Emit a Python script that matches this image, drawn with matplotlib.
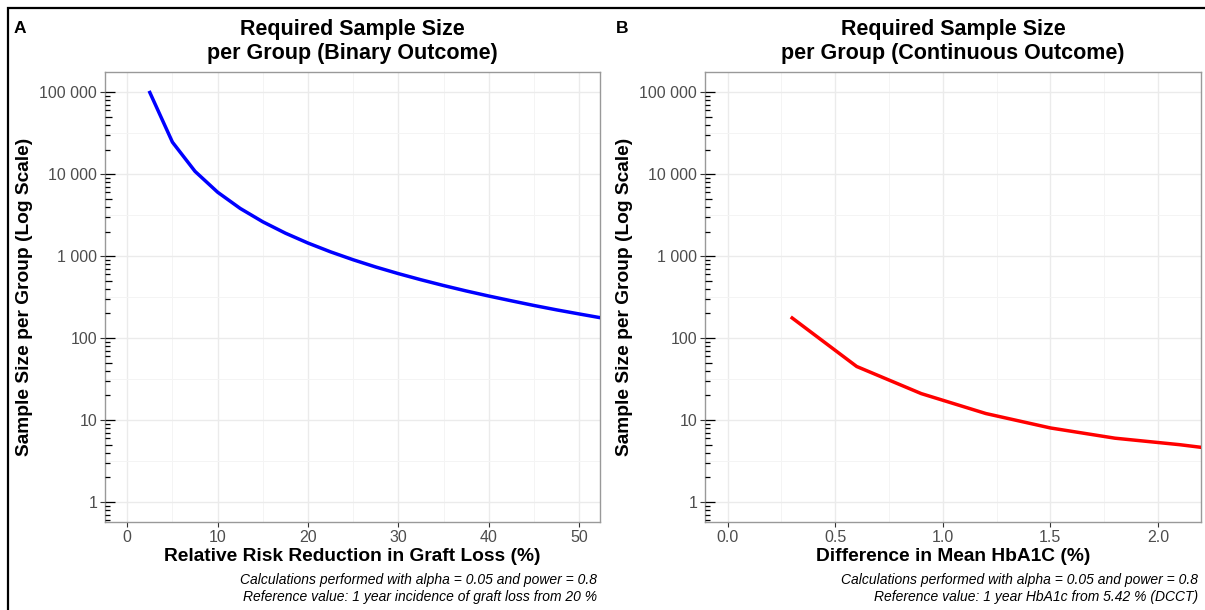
import matplotlib
matplotlib.use("Agg")
import matplotlib.pyplot as plt
from matplotlib.patches import Rectangle
from matplotlib.ticker import FixedLocator, FuncFormatter, MultipleLocator

plt.rcParams['font.family'] = ['Liberation Sans', 'DejaVu Sans']

# binary outcome: relative risk reduction (%) vs n per group
rrr = [2.5, 5, 7.5, 10, 12.5, 15, 17.5, 20, 22.5, 25, 27.5, 30, 32.5, 35,
       37.5, 40, 42.5, 45, 47.5, 50, 52.5, 55]
n_binary = [99516, 24638, 10841, 6036, 3823, 2626, 1908, 1445, 1128, 903, 737,
            612, 515, 438, 376, 326, 285, 250, 221, 197, 176, 157]

# continuous outcome: difference in HbA1c (%) vs n per group
hba1c_diff = [0.3, 0.6, 0.9, 1.2, 1.5, 1.8, 2.1, 2.4]
n_cont = [176, 45, 21, 12, 8, 6, 5, 4]

y_breaks = [1, 10, 100, 1000, 10000, 100000]

W, H = 1205, 610
fig = plt.figure(figsize=(W / 100, H / 100), dpi=100)


def px(x, y):
    return x / W, 1 - y / H


def setup(ax, xmajor, xminor):
    ax.set_yscale('log')
    ax.set_ylim(10 ** -0.245, 10 ** 5.248)
    ax.yaxis.set_major_locator(FixedLocator(y_breaks))
    ax.yaxis.set_minor_locator(FixedLocator([10 ** (k + 0.5) for k in range(-1, 6)]))
    ax.yaxis.set_major_formatter(FuncFormatter(lambda v, p: f"{int(v):,}".replace(",", " ")))
    ax.xaxis.set_major_locator(MultipleLocator(xmajor))
    ax.xaxis.set_minor_locator(MultipleLocator(xminor))
    ax.grid(True, which='major', color='#ebebeb', lw=1.0, zorder=0)
    ax.grid(True, which='minor', color='#f4f4f4', lw=0.7, zorder=0)
    ax.set_axisbelow(True)
    for s in ax.spines.values():
        s.set_color('#999999')
        s.set_linewidth(1.0)
    ax.tick_params(which='major', direction='out', length=3.6, width=0.8,
                   color='#333333', labelcolor='#4d4d4d', labelsize=11.5, pad=2)
    ax.tick_params(which='minor', length=0)
    # log ticks drawn inside the left edge
    trans = ax.get_yaxis_transform()
    wpx = ax.get_position().width * W
    for k in range(-1, 6):
        for m in range(1, 10):
            v = m * 10 ** k
            if v < ax.get_ylim()[0] or v > ax.get_ylim()[1]:
                continue
            L = 10 if m == 1 else (7 if m == 5 else 4.5)
            ax.plot([0, L / wpx], [v, v], transform=trans, color='black',
                    lw=0.9, clip_on=False, zorder=5, solid_capstyle='butt')


axA = fig.add_axes([105 / W, 1 - 522 / H, (600 - 105) / W, (522 - 72) / H])
axB = fig.add_axes([705 / W, 1 - 522 / H, (1201 - 705) / W, (522 - 72) / H])

axA.set_xlim(-2.46, 52.3)
setup(axA, 10, 5)
axA.plot(rrr, n_binary, color='#0000ff', lw=2.5, zorder=3)

axB.set_xlim(-0.105, 2.2)
setup(axB, 0.5, 0.25)
axB.xaxis.set_major_formatter(FuncFormatter(lambda v, p: f"{v:.1f}"))
axB.plot(hba1c_diff, n_cont, color='#ff0000', lw=2.5, zorder=3)

panels = [
    (axA, 'A', 'per Group (Binary Outcome)',
     'Relative Risk Reduction in Graft Loss (%)',
     'Reference value: 1 year incidence of graft loss from 20 %', 14, 105, 600),
    (axB, 'B', 'per Group (Continuous Outcome)',
     'Difference in Mean HbA1C (%)',
     'Reference value: 1 year HbA1c from 5.42 % (DCCT)', 616, 705, 1201),
]
for ax, letter, sub, xlab, ref, lx, x0, x1 in panels:
    cx = (x0 + x1) / 2
    fig.text(*px(lx, 33), letter, fontsize=12.5, fontweight='bold', va='baseline')
    fig.text(*px(cx, 35), 'Required Sample Size', fontsize=15.5, fontweight='bold',
             ha='center', va='baseline')
    fig.text(*px(cx, 59), sub, fontsize=15.5, fontweight='bold', ha='center', va='baseline')
    ax.set_xlabel(xlab, fontsize=13.8, fontweight='bold', labelpad=2)
    ax.set_ylabel('Sample Size per Group (Log Scale)', fontsize=13.8, fontweight='bold',
                  labelpad=5)
    fig.text(*px(x1 - 3, 584), 'Calculations performed with alpha = 0.05 and power = 0.8',
             fontsize=10, style='italic', ha='right', va='baseline')
    fig.text(*px(x1 - 3, 601), ref, fontsize=10, style='italic', ha='right', va='baseline')

# outer frame, open at the right and bottom
fig.patches.append(Rectangle((8 / W, -0.5), 2, 1.5 - 8 / H, transform=fig.transFigure,
                             fill=False, ec='black', lw=1.6))

fig.savefig('out.png', dpi=100)
